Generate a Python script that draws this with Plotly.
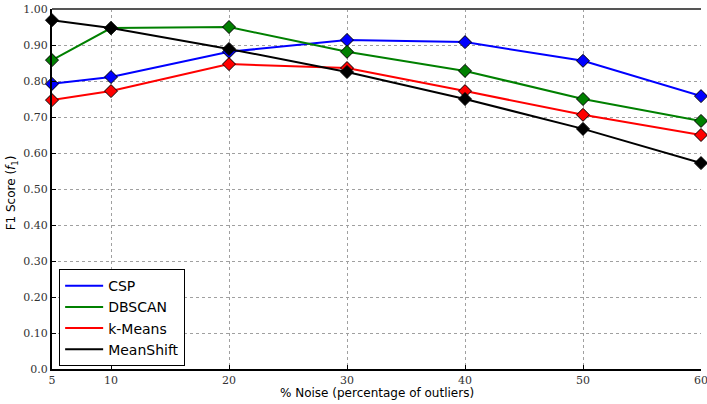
import plotly.graph_objects as go

noise = [5, 10, 20, 30, 40, 50, 60]
csp = [0.792, 0.811, 0.881, 0.914, 0.908, 0.856, 0.758]
dbscan = [0.858, 0.947, 0.950, 0.881, 0.828, 0.750, 0.689]
kmeans = [0.747, 0.772, 0.847, 0.836, 0.772, 0.706, 0.650]
meanshift = [0.969, 0.947, 0.889, 0.825, 0.750, 0.667, 0.572]

series_names = ["CSP", "DBSCAN", "k-Means", "MeanShift"]
series_vals = [csp, dbscan, kmeans, meanshift]
colors = ["#0000ff", "#008000", "#ff0000", "#000000"]

yticks = [0.0, 0.1, 0.2, 0.3, 0.4, 0.5, 0.6, 0.7, 0.8, 0.9, 1.0]
ytick_text = ["0.0", "0.10", "0.20", "0.30", "0.40", "0.50", "0.60", "0.70", "0.80", "0.90", "1.00"]
xticks = [5, 10, 20, 30, 40, 50, 60]

fig = go.Figure()
for name, vals, c in zip(series_names, series_vals, colors):
    fig.add_trace(go.Scatter(
        x=noise, y=vals, mode="lines+markers", name=name, showlegend=False,
        line=dict(color=c, width=2),
        marker=dict(symbol="diamond", size=10, color=c, line=dict(color="black", width=1)),
        cliponaxis=False,
    ))
for name, c in zip(series_names, colors):
    fig.add_trace(go.Scatter(
        x=[None], y=[None], mode="lines", name=name,
        line=dict(color=c, width=2),
    ))

fig.update_layout(
    width=707, height=404,
    margin=dict(l=52, r=6, t=9, b=35, autoexpand=False),
    plot_bgcolor="white", paper_bgcolor="white",
    showlegend=True,
    legend=dict(
        x=0.011, y=0.008, xanchor="left", yanchor="bottom",
        bordercolor="black", borderwidth=1, bgcolor="white",
        font=dict(family="DejaVu Sans", size=14, color="black"),
        tracegroupgap=0, itemwidth=38,
    ),
    xaxis=dict(
        range=[5, 60], tickvals=xticks, ticktext=[str(v) for v in xticks],
        showgrid=True, gridcolor="#a0a0a0", griddash="dot", gridwidth=1,
        showline=True, linecolor="black", linewidth=2, mirror=False,
        ticks="inside", ticklen=4, tickcolor="black",
        tickfont=dict(family="DejaVu Serif", size=11, color="#333"),
        ticklabeloverflow="allow",
        automargin=False, zeroline=False,
    ),
    yaxis=dict(
        range=[0, 1.0], tickvals=yticks, ticktext=ytick_text,
        showgrid=True, gridcolor="#a0a0a0", griddash="dot", gridwidth=1,
        showline=True, linecolor="black", linewidth=2,
        ticks="inside", ticklen=4, tickcolor="black",
        tickfont=dict(family="DejaVu Serif", size=11, color="#333"),
        ticklabeloverflow="allow",
        automargin=False, zeroline=False,
    ),
    shapes=[dict(type="line", xref="paper", yref="paper", x0=0, x1=1, y0=1, y1=1,
                 line=dict(color="#555", width=2))],
    annotations=[
        dict(text="% Noise (percentage of outliers)", xref="paper", yref="paper",
             x=0.5, y=-0.068, xanchor="center", yanchor="middle", showarrow=False,
             font=dict(family="DejaVu Sans", size=12, color="black")),
        dict(text="F1 Score (<i>f</i><sub>1</sub>)", xref="paper", yref="paper",
             x=-0.062, y=0.49, xanchor="center", yanchor="middle", showarrow=False,
             textangle=-90, font=dict(family="DejaVu Sans", size=12, color="black")),
    ],
)

fig.write_html("out.html", config={"displayModeBar": False},
               post_script="document.body.style.margin='0px';document.body.style.overflow='hidden';")
